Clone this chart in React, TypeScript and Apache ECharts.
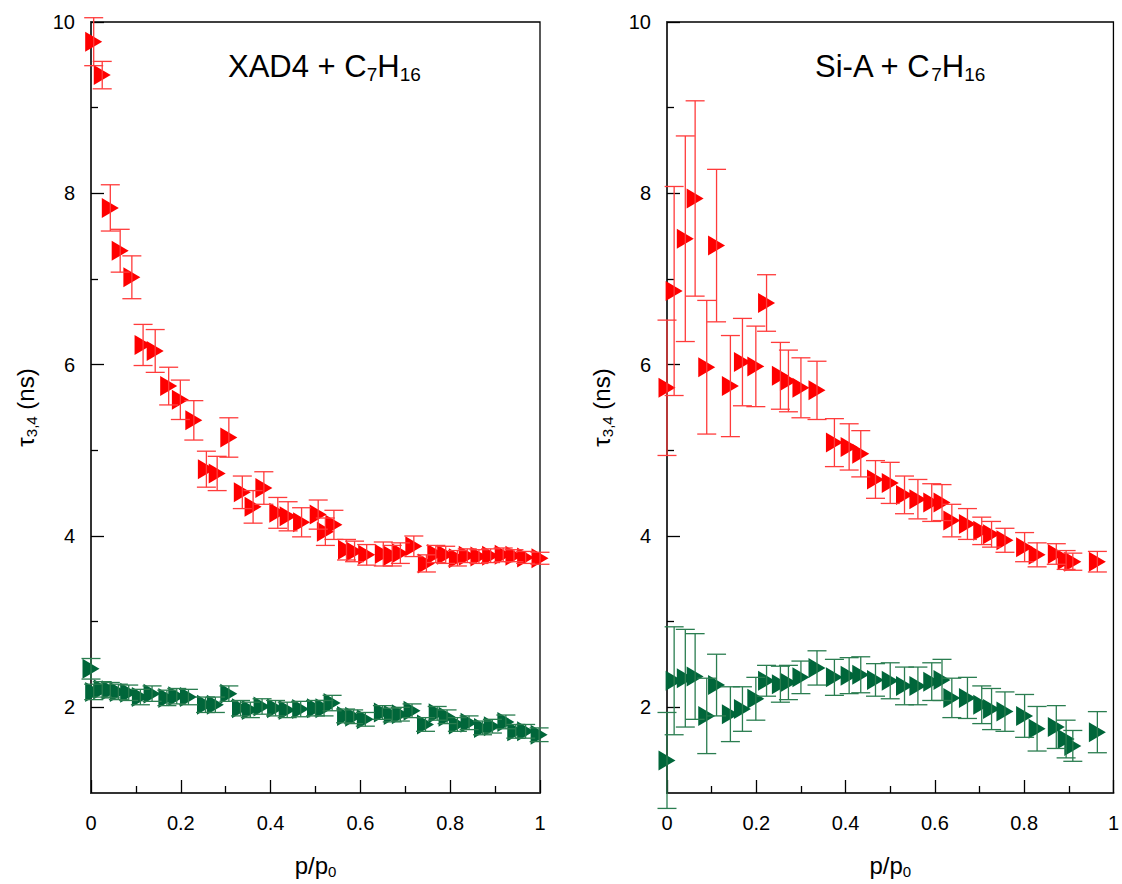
import React, { useEffect, useRef } from "react";
import * as echarts from "echarts";

const FONT = "'Liberation Sans', Arial, Helvetica, sans-serif";

// Left panel: XAD4 + C7H16
const xLeftRed = [0.006, 0.025, 0.043, 0.065, 0.091, 0.116, 0.143, 0.173, 0.199, 0.229, 0.257, 0.281, 0.307, 0.337, 0.361, 0.385, 0.416, 0.439, 0.469, 0.506, 0.522, 0.541, 0.569, 0.587, 0.614, 0.651, 0.671, 0.689, 0.719, 0.747, 0.768, 0.79, 0.816, 0.838, 0.864, 0.89, 0.918, 0.942, 0.968, 1.0];
const yLeftRed = [9.77, 9.38, 7.83, 7.33, 7.02, 6.23, 6.16, 5.75, 5.59, 5.35, 4.78, 4.73, 5.15, 4.51, 4.34, 4.56, 4.27, 4.23, 4.16, 4.25, 4.05, 4.13, 3.84, 3.82, 3.78, 3.79, 3.77, 3.8, 3.88, 3.68, 3.79, 3.78, 3.74, 3.77, 3.76, 3.77, 3.78, 3.77, 3.75, 3.74];
const eLeftRed = [0.28, 0.16, 0.27, 0.25, 0.25, 0.24, 0.25, 0.22, 0.23, 0.23, 0.21, 0.2, 0.23, 0.19, 0.19, 0.19, 0.18, 0.17, 0.17, 0.17, 0.16, 0.17, 0.12, 0.12, 0.12, 0.14, 0.12, 0.12, 0.12, 0.1, 0.1, 0.1, 0.09, 0.08, 0.08, 0.08, 0.08, 0.07, 0.07, 0.07];

const xLeftGreen = [0.0, 0.006, 0.025, 0.043, 0.061, 0.084, 0.11, 0.136, 0.169, 0.191, 0.217, 0.255, 0.277, 0.307, 0.333, 0.355, 0.381, 0.411, 0.437, 0.467, 0.5, 0.519, 0.537, 0.567, 0.585, 0.611, 0.649, 0.671, 0.689, 0.715, 0.745, 0.771, 0.793, 0.816, 0.842, 0.872, 0.894, 0.924, 0.946, 0.968, 0.998];
const yLeftGreen = [2.45, 2.18, 2.21, 2.2, 2.18, 2.17, 2.12, 2.16, 2.11, 2.13, 2.12, 2.03, 2.03, 2.16, 1.99, 1.97, 2.01, 1.99, 1.97, 1.98, 1.99, 1.99, 2.05, 1.9, 1.89, 1.86, 1.94, 1.91, 1.92, 1.96, 1.8, 1.93, 1.89, 1.8, 1.82, 1.76, 1.78, 1.83, 1.72, 1.72, 1.68];
const eLeftGreen = [0.12, 0.09, 0.09, 0.09, 0.09, 0.09, 0.09, 0.09, 0.09, 0.09, 0.09, 0.09, 0.09, 0.09, 0.09, 0.09, 0.09, 0.09, 0.09, 0.09, 0.09, 0.09, 0.09, 0.08, 0.08, 0.08, 0.08, 0.08, 0.08, 0.08, 0.08, 0.08, 0.08, 0.08, 0.08, 0.08, 0.08, 0.08, 0.08, 0.08, 0.08];

// Right panel: Si-A + C7H16
const xRight = [0.0, 0.016, 0.041, 0.063, 0.089, 0.111, 0.142, 0.169, 0.199, 0.223, 0.254, 0.272, 0.3, 0.336, 0.375, 0.408, 0.434, 0.467, 0.5, 0.532, 0.562, 0.593, 0.616, 0.638, 0.673, 0.705, 0.727, 0.757, 0.801, 0.829, 0.872, 0.894, 0.909, 0.964];
const yRightRed = [5.73, 6.86, 7.47, 7.94, 5.97, 7.39, 5.75, 6.03, 5.98, 6.72, 5.87, 5.81, 5.73, 5.7, 5.09, 5.04, 4.96, 4.66, 4.62, 4.48, 4.43, 4.39, 4.39, 4.18, 4.14, 4.06, 4.02, 3.95, 3.87, 3.78, 3.79, 3.72, 3.7, 3.7];
const eRightRed = [0.79, 1.22, 1.2, 1.14, 0.78, 0.89, 0.59, 0.51, 0.47, 0.33, 0.39, 0.36, 0.35, 0.34, 0.28, 0.27, 0.27, 0.22, 0.24, 0.22, 0.23, 0.22, 0.21, 0.19, 0.18, 0.16, 0.15, 0.14, 0.17, 0.14, 0.12, 0.11, 0.1, 0.12];
const yRightGreen = [1.38, 2.31, 2.34, 2.36, 1.9, 2.26, 1.92, 1.98, 2.1, 2.31, 2.27, 2.29, 2.35, 2.46, 2.35, 2.37, 2.38, 2.32, 2.31, 2.25, 2.25, 2.3, 2.32, 2.11, 2.11, 2.03, 1.98, 1.95, 1.9, 1.75, 1.77, 1.63, 1.55, 1.71];
const eRightGreen = [0.56, 0.63, 0.57, 0.5, 0.44, 0.36, 0.32, 0.26, 0.25, 0.18, 0.21, 0.2, 0.19, 0.2, 0.21, 0.21, 0.21, 0.19, 0.21, 0.22, 0.22, 0.22, 0.24, 0.23, 0.24, 0.22, 0.24, 0.23, 0.25, 0.26, 0.25, 0.22, 0.18, 0.24];

const yMajorTicks = [2, 4, 6, 8, 10];
const yMinorTicks = [3, 5, 7, 9];

const RED = "#ff0000";
const RED_ERR = "#ff3b3b";
const GREEN = "#00663a";
const GREEN_ERR = "#2a7d50";
const TRIANGLE = "path://M0,0L17,10L0,20Z";

const zip = (xs: number[], ys: number[], es: number[]) => xs.map((x, i) => [x, ys[i], es[i]]);

const axisRich = {
  a: { fontSize: 24, fontFamily: FONT, fontWeight: "normal", color: "#000", lineHeight: 28 },
  s: { fontSize: 15, fontFamily: FONT, fontWeight: "normal", color: "#000", lineHeight: 10, verticalAlign: "bottom" },
};
const titleRich = {
  a: { fontSize: 31, fontFamily: FONT, fontWeight: "normal", color: "#000", lineHeight: 36 },
  s: { fontSize: 19, fontFamily: FONT, fontWeight: "normal", color: "#000", lineHeight: 12, verticalAlign: "bottom" },
};

function makeX(gridIndex: number) {
  return {
    type: "value",
    gridIndex,
    min: 0,
    max: 1,
    interval: 0.2,
    axisLine: { show: true, onZero: false, lineStyle: { color: "#333", width: 2 } },
    axisTick: { show: true, inside: true, length: 13, lineStyle: { color: "#000", width: 1.3 } },
    minorTick: { show: true, splitNumber: 2, length: 7, lineStyle: { color: "#000", width: 1.3 } },
    splitLine: { show: false },
    minorSplitLine: { show: false },
    axisLabel: {
      margin: 20,
      fontSize: 20,
      color: "#000",
      fontFamily: FONT,
      showMinLabel: true,
      showMaxLabel: true,
      formatter: (v: number) => String(Math.round(v * 10) / 10),
    },
    name: "{a|p/p}{s|0}",
    nameLocation: "middle",
    nameGap: 58,
    nameTextStyle: { rich: axisRich },
  };
}

function makeYMain(gridIndex: number) {
  return {
    type: "value",
    gridIndex,
    position: "left",
    offset: 0,
    min: 1,
    max: 10,
    interval: 1,
    axisLine: { show: true, onZero: false, lineStyle: { color: "#333", width: 2 } },
    axisTick: { show: true, inside: true, length: 13, customValues: yMajorTicks, lineStyle: { color: "#000", width: 1.3 } },
    splitLine: { show: false },
    axisLabel: { margin: 16, fontSize: 20, color: "#000", fontFamily: FONT, customValues: yMajorTicks },
    name: "{a|τ}{s|3,4}{a| (ns)}",
    nameLocation: "middle",
    nameGap: 52,
    nameTextStyle: { rich: axisRich },
  };
}

function makeYMinor(gridIndex: number) {
  return {
    type: "value",
    gridIndex,
    position: "left",
    offset: 0,
    min: 1,
    max: 10,
    interval: 1,
    axisLine: { show: false },
    axisTick: { show: true, inside: true, length: 7, customValues: yMinorTicks, lineStyle: { color: "#000", width: 1.3 } },
    splitLine: { show: false },
    axisLabel: { show: false },
  };
}

function scatter(data: number[][], xi: number, yi: number, color: string) {
  return {
    type: "scatter",
    xAxisIndex: xi,
    yAxisIndex: yi,
    data,
    symbol: TRIANGLE,
    symbolSize: [17, 20],
    itemStyle: { color, opacity: 1 },
    clip: false,
    z: 2,
  };
}

function errorBars(data: number[][], xi: number, yi: number, color: string) {
  return {
    type: "custom",
    xAxisIndex: xi,
    yAxisIndex: yi,
    data,
    clip: false,
    z: 3,
    encode: { x: 0, y: 1 },
    renderItem: (_params: any, api: any) => {
      const x = api.value(0);
      const y = api.value(1);
      const e = api.value(2);
      const p1 = api.coord([x, y + e]);
      const p2 = api.coord([x, y - e]);
      const h = 9.5;
      const style = { stroke: color, lineWidth: 1.3, fill: "none" };
      return {
        type: "group",
        children: [
          { type: "line", shape: { x1: p1[0], y1: p1[1], x2: p2[0], y2: p2[1] }, style },
          { type: "line", shape: { x1: p1[0] - h, y1: p1[1], x2: p1[0] + h, y2: p1[1] }, style },
          { type: "line", shape: { x1: p2[0] - h, y1: p2[1], x2: p2[0] + h, y2: p2[1] }, style },
        ],
      };
    },
  };
}

export default function App() {
  const ref = useRef<HTMLDivElement>(null);
  useEffect(() => {
    if (!ref.current) return;
    const chart = echarts.init(ref.current, null, { renderer: "svg" });
    const lr = zip(xLeftRed, yLeftRed, eLeftRed);
    const lg = zip(xLeftGreen, yLeftGreen, eLeftGreen);
    const rr = zip(xRight, yRightRed, eRightRed);
    const rg = zip(xRight, yRightGreen, eRightGreen);
    chart.setOption({
      animation: false,
      backgroundColor: "#fff",
      title: [
        { text: "{a|XAD4 + C}{s|7}{a|H}{s|16}", left: 228, top: 48, padding: 0, textStyle: { fontWeight: "normal", rich: titleRich } },
        { text: "{a|Si-A + C}{s|7}{a|H}{s|16}", left: 815, top: 48, padding: 0, textStyle: { fontWeight: "normal", rich: titleRich } },
      ],
      grid: [
        { left: 91, top: 22, width: 449, height: 771, show: true, borderColor: "#000", borderWidth: 1.3, backgroundColor: "transparent" },
        { left: 667, top: 22, width: 449, height: 771, show: true, borderColor: "#000", borderWidth: 1.3, backgroundColor: "transparent" },
      ],
      xAxis: [makeX(0), makeX(1)],
      yAxis: [makeYMain(0), makeYMinor(0), makeYMain(1), makeYMinor(1)],
      series: [
        scatter(lr, 0, 0, RED),
        errorBars(lr, 0, 0, RED_ERR),
        scatter(lg, 0, 0, GREEN),
        errorBars(lg, 0, 0, GREEN_ERR),
        scatter(rr, 1, 2, RED),
        errorBars(rr, 1, 2, RED_ERR),
        scatter(rg, 1, 2, GREEN),
        errorBars(rg, 1, 2, GREEN_ERR),
      ],
    });
    return () => chart.dispose();
  }, []);
  return <div ref={ref} style={{ position: "fixed", left: 0, top: 0, width: 1122, height: 884 }} />;
}
